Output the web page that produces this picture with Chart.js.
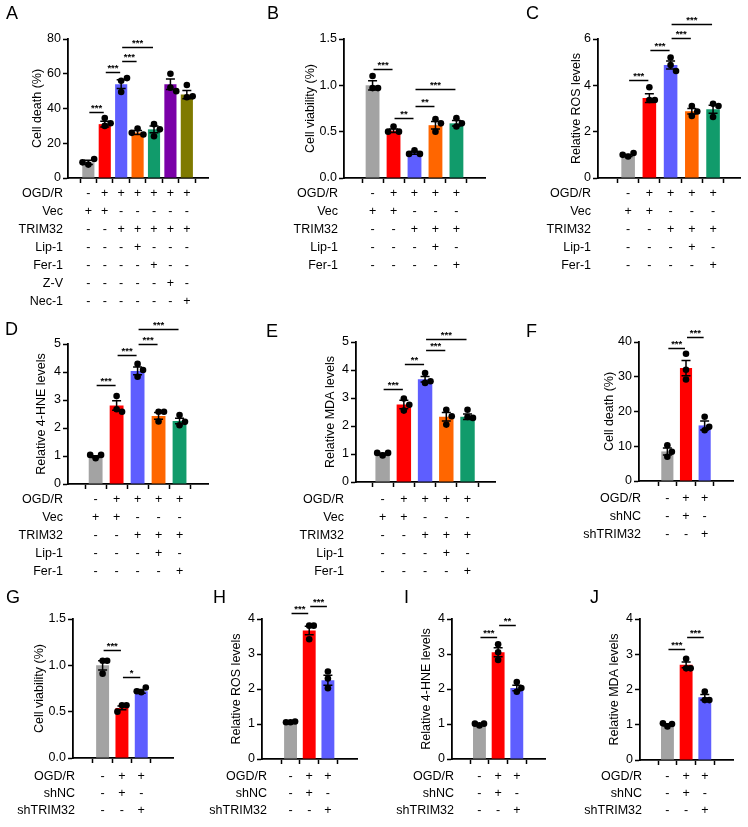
<!DOCTYPE html>
<html>
<head>
<meta charset="utf-8">
<script src="https://cdn.jsdelivr.net/npm/chart.js@4.4.1/dist/chart.umd.min.js"></script>
<style>
  html, body { margin: 0; padding: 0; background: #fff; }
  #fig { position: relative; width: 748px; height: 827px; }
  #fig canvas { position: absolute; left: 0; top: 0; }
</style>
</head>
<body>
<div id="fig"></div>
<script>
/*------------------------------ DATA ------------------------------*/

// colours per group
const colorsA = ['#A3A3A3', '#FF0000', '#5E5EFF', '#FF6600', '#119B6B', '#7A00A8', '#7F7A00'];
const colors5 = colorsA.slice(0, 5);
const colors3 = colorsA.slice(0, 3);

// condition tables (one string per row, one char per bar)
const condLabelsA = ['OGD/R', 'Vec', 'TRIM32', 'Lip-1', 'Fer-1', 'Z-V', 'Nec-1'];
const condA = ['-++++++', '++-----', '--+++++', '---+---', '----+--', '-----+-', '------+'];
const condLabels5 = ['OGD/R', 'Vec', 'TRIM32', 'Lip-1', 'Fer-1'];
const cond5 = ['-++++', '++---', '--+++', '---+-', '----+'];
const condLabels3 = ['OGD/R', 'shNC', 'shTRIM32'];
const cond3 = ['-++', '-+-', '--+'];

// A - cell death
const meansA = [9, 31, 54, 26.2, 28, 54, 48];
const semsA = [1.2, 1.6, 2.5, 1.1, 2.0, 3.0, 2.4];
const dotsA = [[7.7, 10.9, 9.0], [34.5, 30, 31.5], [56, 57.5, 49.5], [28.5, 25, 26], [31, 24, 28], [60, 52, 50], [53.5, 46.5, 47]];
const sigA = [[0, 1, 38, '***'], [1, 2, 61, '***'], [2, 3, 67.3, '***'], [2, 4, 75.4, '***']];

// B - cell viability
const meansB = [1.0, 0.51, 0.27, 0.57, 0.59];
const semsB = [0.05, 0.02, 0.015, 0.04, 0.03];
const dotsB = [[1.10, 0.97, 0.97], [0.556, 0.50, 0.50], [0.30, 0.26, 0.26], [0.635, 0.59, 0.50], [0.646, 0.556, 0.59]];
const sigB = [[0, 1, 1.176, '***'], [1, 2, 0.647, '**'], [2, 3, 0.777, '**'], [2, 4, 0.96, '***']];

// C - ROS
const meansC = [0.97, 3.45, 4.88, 2.88, 2.97];
const semsC = [0.04, 0.19, 0.17, 0.12, 0.17];
const dotsC = [[0.93, 1.08, 1.0], [3.92, 3.37, 3.37], [5.2, 4.88, 4.62], [3.11, 2.68, 2.87], [3.2, 3.11, 2.63]];
const sigC = [[0, 1, 4.23, '***'], [1, 2, 5.53, '***'], [2, 3, 6.04, '***'], [2, 4, 6.65, '***']];

// D - 4-HNE
const meansD = [0.98, 2.8, 4.04, 2.43, 2.25];
const semsD = [0.03, 0.17, 0.14, 0.12, 0.1];
const dotsD = [[0.92, 1.04, 1.04], [3.14, 2.67, 2.58], [4.29, 4.07, 3.83], [2.58, 2.58, 2.23], [2.46, 2.1, 2.22]];
const sigD = [[0, 1, 3.52, '***'], [1, 2, 4.6, '***'], [2, 3, 5.0, '***'], [2, 4, 5.54, '***']];

// E - MDA
const meansE = [1.0, 2.77, 3.67, 2.33, 2.33];
const semsE = [0.03, 0.15, 0.1, 0.15, 0.1];
const dotsE = [[0.95, 1.04, 1.04], [2.98, 2.76, 2.55], [3.89, 3.54, 3.6], [2.58, 2.35, 2.05], [2.58, 2.32, 2.29]];
const sigE = [[0, 1, 3.33, '***'], [1, 2, 4.21, '**'], [2, 3, 4.73, '***'], [2, 4, 5.1, '***']];

// F - cell death (shRNA)
const meansF = [8.5, 32.5, 16];
const semsF = [1.0, 2.2, 1.3];
const dotsF = [[10.3, 8.4, 7.0], [36.6, 32.0, 29.2], [18.5, 14.6, 15.6]];
const sigF = [[0, 1, 38.3, '***'], [1, 2, 41.4, '***']];

// G - cell viability (shRNA)
const meansG = [1.0, 0.54, 0.72];
const semsG = [0.05, 0.02, 0.02];
const dotsG = [[1.05, 1.05, 0.91], [0.57, 0.57, 0.50], [0.71, 0.76, 0.72]];
const sigG = [[0, 1, 1.17, '***'], [1, 2, 0.87, '*']];

// H - ROS (shRNA)
const meansH = [1.05, 3.67, 2.25];
const semsH = [0.01, 0.12, 0.14];
const dotsH = [[1.05, 1.07, 1.05], [3.81, 3.81, 3.42], [2.5, 2.3, 2.02]];
const sigH = [[0, 1, 4.16, '***'], [1, 2, 4.37, '***']];

// I - 4-HNE (shRNA)
const meansI = [0.99, 3.05, 2.03];
const semsI = [0.02, 0.13, 0.08];
const dotsI = [[0.96, 1.01, 1.01], [3.28, 3.05, 2.83], [2.2, 1.92, 2.03]];
const sigI = [[0, 1, 3.5, '***'], [1, 2, 3.82, '**']];

// J - MDA (shRNA)
const meansJ = [1.0, 2.7, 1.78];
const semsJ = [0.03, 0.08, 0.08];
const dotsJ = [[0.95, 1.02, 1.04], [2.87, 2.6, 2.6], [1.94, 1.7, 1.7]];
const sigJ = [[0, 1, 3.15, '***'], [1, 2, 3.49, '***']];

/*------------------------------ LAYOUT ------------------------------*/

const W = 748, H = 827;
const FONT = '"Liberation Sans", Arial, Helvetica, sans-serif';
const FS = 12.5; // base text size
Chart.defaults.font.family = FONT;
Chart.defaults.color = '#000';

const panels = [
  { letter: 'A', lx: 6, ly: 14, axisX: 68, top: 39, bottom: 178, right: 208, padL: 0.63, padR: 0.68, barPct: 0.74,
    titleX: 38, title: 'Cell death (%)', yMax: 80, yStep: 20, dec: 0, rowY: 194, rowGap: 18, labelX: 63,
    means: meansA, sems: semsA, dots: dotsA, sig: sigA, colors: colorsA, condLabels: condLabelsA, cond: condA },
  { letter: 'B', lx: 267, ly: 14, axisX: 344, top: 39, bottom: 178, right: 485, padL: 0.69, padR: 0.69, barPct: 0.66,
    titleX: 311, title: 'Cell viability (%)', yMax: 1.5, yStep: 0.5, dec: 1, rowY: 194, rowGap: 18, labelX: 338,
    means: meansB, sems: semsB, dots: dotsB, sig: sigB, colors: colors5, condLabels: condLabels5, cond: cond5 },
  { letter: 'C', lx: 526, ly: 14, axisX: 598, top: 39, bottom: 178, right: 740, padL: 0.75, padR: 0.6, barPct: 0.64,
    titleX: 577, title: 'Relative ROS levels', yMax: 6, yStep: 2, dec: 0, rowY: 194, rowGap: 18, labelX: 591,
    means: meansC, sems: semsC, dots: dotsC, sig: sigC, colors: colors5, condLabels: condLabels5, cond: cond5 },
  { letter: 'D', lx: 5, ly: 330, axisX: 68, top: 344, bottom: 484, right: 208, padL: 0.65, padR: 0.69, barPct: 0.66,
    titleX: 42, title: 'Relative 4-HNE levels', yMax: 5, yStep: 1, dec: 0, rowY: 500, rowGap: 18, labelX: 63,
    means: meansD, sems: semsD, dots: dotsD, sig: sigD, colors: colors5, condLabels: condLabels5, cond: cond5 },
  { letter: 'E', lx: 266, ly: 332, axisX: 356, top: 342, bottom: 482, right: 495, padL: 0.6, padR: 0.64, barPct: 0.68,
    titleX: 331, title: 'Relative MDA levels', yMax: 5, yStep: 1, dec: 0, rowY: 500, rowGap: 18, labelX: 344,
    means: meansE, sems: semsE, dots: dotsE, sig: sigE, colors: colors5, condLabels: condLabels5, cond: cond5 },
  { letter: 'F', lx: 526, ly: 332, axisX: 639, top: 342, bottom: 481, right: 733, padL: 0.68, padR: 0.68, barPct: 0.65,
    titleX: 610, title: 'Cell death (%)', yMax: 40, yStep: 10, dec: 0, rowY: 499, rowGap: 18, labelX: 641,
    means: meansF, sems: semsF, dots: dotsF, sig: sigF, colors: colors3, condLabels: condLabels3, cond: cond3 },
  { letter: 'G', lx: 6, ly: 598, axisX: 73, top: 619, bottom: 758, right: 173, padL: 0.67, padR: 0.78, barPct: 0.67,
    titleX: 40, title: 'Cell viability (%)', yMax: 1.5, yStep: 0.5, dec: 1, rowY: 777, rowGap: 17, labelX: 75,
    means: meansG, sems: semsG, dots: dotsG, sig: sigG, colors: colors3, condLabels: condLabels3, cond: cond3 },
  { letter: 'H', lx: 213, ly: 598, axisX: 262, top: 619, bottom: 759, right: 357, padL: 0.68, padR: 0.71, barPct: 0.69,
    titleX: 237, title: 'Relative ROS levels', yMax: 4, yStep: 1, dec: 0, rowY: 777, rowGap: 17, labelX: 267,
    means: meansH, sems: semsH, dots: dotsH, sig: sigH, colors: colors3, condLabels: condLabels3, cond: cond3 },
  { letter: 'I', lx: 404, ly: 598, axisX: 452, top: 619, bottom: 759, right: 545, padL: 0.64, padR: 0.68, barPct: 0.69,
    titleX: 427, title: 'Relative 4-HNE levels', yMax: 4, yStep: 1, dec: 0, rowY: 777, rowGap: 17, labelX: 454,
    means: meansI, sems: semsI, dots: dotsI, sig: sigI, colors: colors3, condLabels: condLabels3, cond: cond3 },
  { letter: 'J', lx: 590, ly: 598, axisX: 640, top: 619, bottom: 760, right: 733, padL: 0.64, padR: 0.68, barPct: 0.69,
    titleX: 615, title: 'Relative MDA levels', yMax: 4, yStep: 1, dec: 0, rowY: 777, rowGap: 17, labelX: 642,
    means: meansJ, sems: semsJ, dots: dotsJ, sig: sigJ, colors: colors3, condLabels: condLabels3, cond: cond3 },
];

/*------------------------------ HELPERS ------------------------------*/

// spread overlapping replicate dots sideways (simple beeswarm, in px then back to units)
function swarm(vals, pxPerY, pxPerX) {
  const d = 6.8;
  const placed = [];
  return vals.map(v => {
    const y = v * pxPerY;
    for (const t of [0, d, -d, 2 * d, -2 * d]) {
      if (placed.every(p => Math.hypot(p.x - t, p.y - y) >= d)) {
        placed.push({ x: t, y });
        return t / pxPerX;
      }
    }
    return 0;
  });
}

const extras = {
  id: 'extras',
  afterDatasetsDraw(chart) {
    const p = chart.options.plugins.extras;
    const ctx = chart.ctx, xs = chart.scales.x, ys = chart.scales.y;
    ctx.save();
    ctx.strokeStyle = '#000';
    ctx.fillStyle = '#000';

    // error bars (mean +/- SEM)
    ctx.lineWidth = 1.5;
    p.means.forEach((m, i) => {
      const cx = xs.getPixelForValue(i);
      const lo = ys.getPixelForValue(m - p.sems[i]);
      const hi = ys.getPixelForValue(m + p.sems[i]);
      ctx.beginPath();
      ctx.moveTo(cx, lo); ctx.lineTo(cx, hi);
      ctx.moveTo(cx - 4.5, hi); ctx.lineTo(cx + 4.5, hi);
      ctx.moveTo(cx - 4.5, lo); ctx.lineTo(cx + 4.5, lo);
      ctx.stroke();
    });

    // significance bars
    ctx.lineWidth = 1.5;
    ctx.font = 'bold 9.5px ' + FONT;
    ctx.textAlign = 'center';
    ctx.textBaseline = 'alphabetic';
    p.sig.forEach(([a, b, v, txt]) => {
      const x1 = xs.getPixelForValue(a) + 1, x2 = xs.getPixelForValue(b) - 1;
      const y = Math.round(ys.getPixelForValue(v)) + 0.5;
      ctx.beginPath(); ctx.moveTo(x1, y); ctx.lineTo(x2, y); ctx.stroke();
      ctx.fillText(txt, (x1 + x2) / 2, y - 2);
    });

    // condition table under the x axis
    ctx.font = FS + 'px ' + FONT;
    ctx.textBaseline = 'middle';
    p.condLabels.forEach((lab, r) => {
      const y = p.rowY + r * p.rowGap;
      ctx.textAlign = 'right';
      ctx.fillText(lab, p.labelX, y);
      ctx.textAlign = 'center';
      for (let i = 0; i < p.means.length; i++) {
        ctx.fillText(p.cond[r][i], xs.getPixelForValue(i), y);
      }
    });

    // panel letter
    ctx.font = '18px ' + FONT;
    ctx.textAlign = 'left';
    ctx.fillText(p.letter, p.lx, p.ly);
    ctx.restore();
  }
};

/*------------------------------ CHARTS ------------------------------*/

const fig = document.getElementById('fig');

panels.forEach(p => {
  const canvas = document.createElement('canvas');
  canvas.width = W;
  canvas.height = H;
  fig.appendChild(canvas);

  const n = p.means.length;
  const lh = FS * 1.2; // title line height
  const pxPerX = (p.right - p.axisX) / (n - 1 + p.padL + p.padR);
  const pxPerY = (p.bottom - p.top) / p.yMax;

  const dotPts = [];
  p.dots.forEach((vals, i) => {
    const offs = swarm(vals, pxPerY, pxPerX);
    vals.forEach((v, k) => dotPts.push({ x: i + offs[k], y: v }));
  });

  new Chart(canvas, {
    type: 'bar',
    data: {
      datasets: [
        {
          type: 'scatter',
          data: dotPts,
          pointRadius: 3.3,
          pointBackgroundColor: '#000',
          pointBorderWidth: 0,
          order: 0
        },
        {
          data: p.means.map((v, i) => ({ x: i, y: v })),
          backgroundColor: p.colors,
          borderWidth: 0,
          barPercentage: p.barPct,
          categoryPercentage: 1,
          order: 1
        }
      ]
    },
    options: {
      responsive: false,
      animation: false,
      events: [],
      layout: {
        padding: { left: p.titleX - lh / 2, top: p.top, right: W - p.right, bottom: H - p.bottom - 6 }
      },
      plugins: { legend: { display: false }, tooltip: { enabled: false }, extras: p },
      scales: {
        x: {
          type: 'linear',
          min: -p.padL,
          max: n - 1 + p.padR,
          afterBuildTicks: s => { s.ticks = p.means.map((_, i) => ({ value: i })); },
          afterFit: s => { s.height = 6; },
          ticks: { display: false },
          grid: { drawOnChartArea: false, drawTicks: true, tickLength: 5, tickColor: '#000', tickWidth: 1.5 },
          border: { display: true, color: '#000', width: 1.8 }
        },
        y: {
          min: 0,
          max: p.yMax,
          afterFit: s => { s.width = p.axisX - (p.titleX - lh / 2); },
          ticks: { stepSize: p.yStep, color: '#000', font: { size: FS }, padding: 2, callback: v => v.toFixed(p.dec) },
          grid: { drawOnChartArea: false, drawTicks: true, tickLength: 5, tickColor: '#000', tickWidth: 1.5 },
          border: { display: true, color: '#000', width: 1.8 },
          title: { display: true, text: p.title, color: '#000', font: { size: FS }, padding: 0 }
        }
      }
    },
    plugins: [extras]
  });
});
</script>
</body>
</html>
